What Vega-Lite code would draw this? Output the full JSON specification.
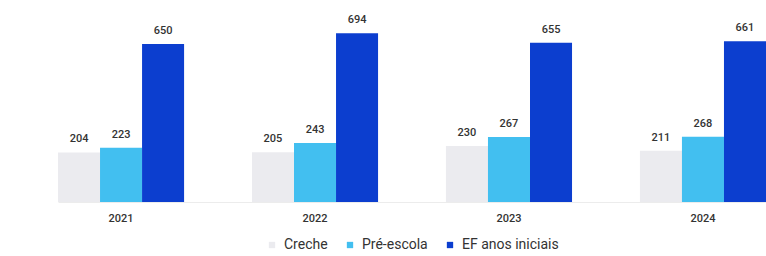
{
  "$schema": "https://vega.github.io/schema/vega-lite/v6.json",
  "width": 766,
  "height": 202,
  "autosize": {"type": "none"},
  "padding": {"left": 0, "top": 0, "right": 0, "bottom": 54},
  "background": "white",
  "config": {"view": {"stroke": null}, "font": "Roboto"},
  "data": {
    "values": [
      {"ano": "2021", "serie": "Creche", "valor": 204},
      {"ano": "2021", "serie": "Pré-escola", "valor": 223},
      {"ano": "2021", "serie": "EF anos iniciais", "valor": 650},
      {"ano": "2022", "serie": "Creche", "valor": 205},
      {"ano": "2022", "serie": "Pré-escola", "valor": 243},
      {"ano": "2022", "serie": "EF anos iniciais", "valor": 694},
      {"ano": "2023", "serie": "Creche", "valor": 230},
      {"ano": "2023", "serie": "Pré-escola", "valor": 267},
      {"ano": "2023", "serie": "EF anos iniciais", "valor": 655},
      {"ano": "2024", "serie": "Creche", "valor": 211},
      {"ano": "2024", "serie": "Pré-escola", "valor": 268},
      {"ano": "2024", "serie": "EF anos iniciais", "valor": 661}
    ]
  },
  "encoding": {
    "x": {
      "field": "ano", "type": "nominal",
      "scale": {"range": [58, 766], "paddingInner": 0.35, "paddingOuter": 0},
      "axis": {
        "title": null, "labelAngle": 0, "ticks": false,
        "domain": true, "domainColor": "#ececec", "domainWidth": 1,
        "labelFont": "Roboto", "labelFontSize": 11, "labelFontWeight": 500,
        "labelColor": "#333333", "labelPadding": 10
      }
    },
    "xOffset": {
      "field": "serie", "type": "nominal",
      "sort": ["Creche", "Pré-escola", "EF anos iniciais"],
      "scale": {"paddingInner": 0, "paddingOuter": 0}
    },
    "y": {
      "field": "valor", "type": "quantitative",
      "scale": {"domain": [0, 831], "nice": false},
      "axis": null
    }
  },
  "layer": [
    {
      "mark": {"type": "bar"},
      "encoding": {
        "color": {
          "field": "serie", "type": "nominal",
          "sort": ["Creche", "Pré-escola", "EF anos iniciais"],
          "scale": {
            "domain": ["Creche", "Pré-escola", "EF anos iniciais"],
            "range": ["#ebebef", "#42bff0", "#0c3ecf"]
          },
          "legend": {
            "title": null, "orient": "none", "direction": "horizontal",
            "legendX": 265, "legendY": 238,
            "symbolType": "square", "symbolSize": 40,
            "labelFont": "Roboto", "labelFontSize": 14, "labelColor": "#333333",
            "labelOffset": 5, "columnPadding": 15, "symbolStrokeWidth": 0
          }
        }
      }
    },
    {
      "mark": {"type": "text", "dy": -13, "fontSize": 11, "fontWeight": 500, "color": "#333333", "font": "Roboto"},
      "encoding": {"text": {"field": "valor", "type": "quantitative"}}
    }
  ]
}
